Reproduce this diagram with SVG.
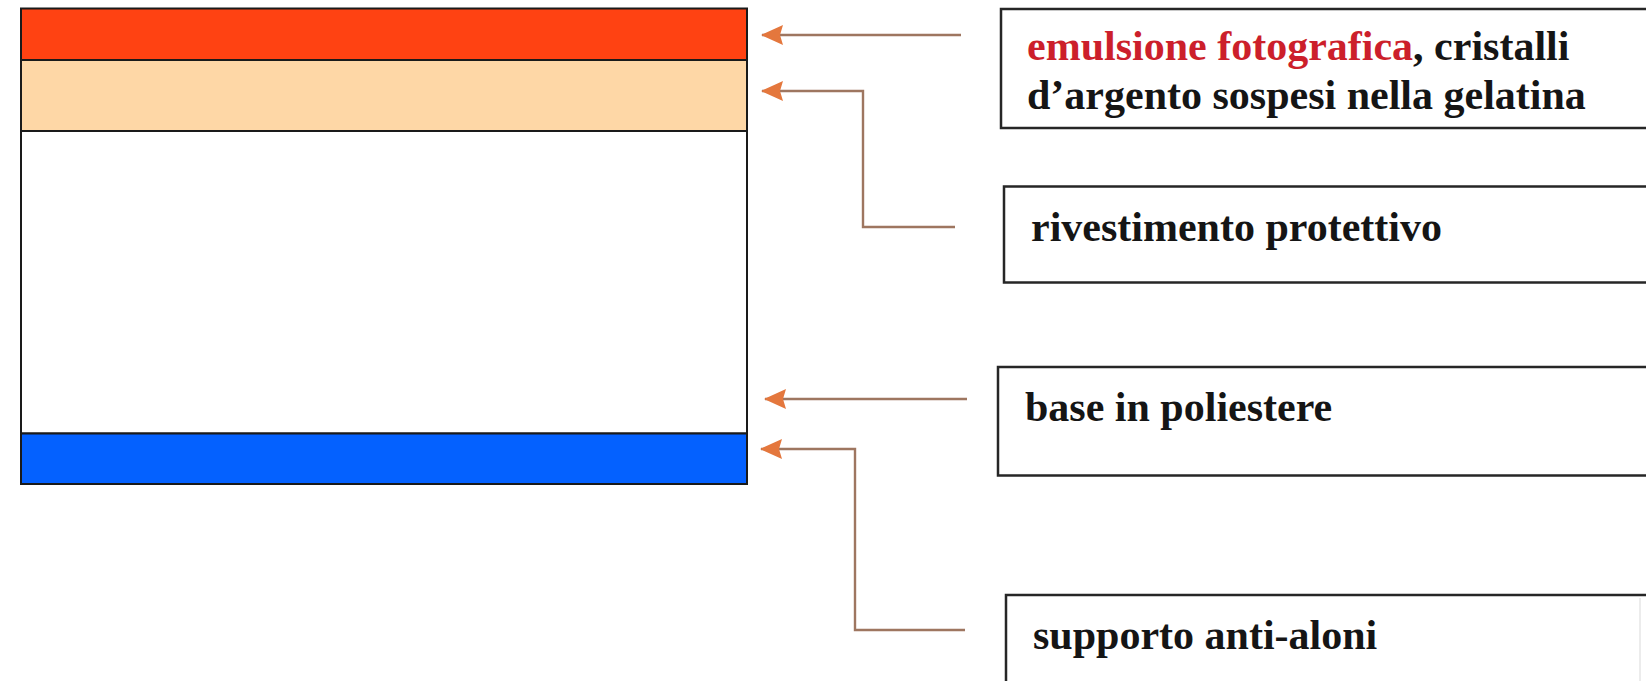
<svg xmlns="http://www.w3.org/2000/svg" width="1646" height="681" viewBox="0 0 1646 681">
  <style>
    .lbl { font-family: "Liberation Serif", "Times New Roman", serif; font-weight: bold; font-size: 42px; fill: #151515; }
    .red { fill: #cc1f2b; }
    .box { fill: #ffffff; stroke: #262626; stroke-width: 2.5; }
    .band { stroke: #1a1a1a; stroke-width: 2; }
    .conn { fill: none; stroke: #9e7660; stroke-width: 2.4; }
  </style>
  <defs>
    <marker id="ah" viewBox="0 0 22 20" refX="21" refY="10" markerWidth="22" markerHeight="20" markerUnits="userSpaceOnUse" orient="auto">
      <path d="M0,0 L22,10 L0,20 L3,10 z" fill="#e4773d"/>
    </marker>
  </defs>
  <rect x="0" y="0" width="1646" height="681" fill="#ffffff"/>

  <g id="layers">
    <rect class="band" x="21" y="8.5" width="726" height="51.5" fill="#ff4212"/>
    <rect class="band" x="21" y="60" width="726" height="71" fill="#fed7a6"/>
    <rect class="band" x="21" y="131" width="726" height="302.5" fill="#ffffff"/>
    <rect class="band" x="21" y="433.5" width="726" height="50.5" fill="#0461ff"/>
  </g>

  <g id="connectors">
    <path class="conn" d="M961,35 L762,35" marker-end="url(#ah)"/>
    <path class="conn" d="M955,227 L863,227 L863,91 L762,91" marker-end="url(#ah)"/>
    <path class="conn" d="M967,399 L765,399" marker-end="url(#ah)"/>
    <path class="conn" d="M965,630 L855,630 L855,449 L761,449" marker-end="url(#ah)"/>
  </g>

  <g id="node-emulsione">
    <rect class="box" x="1001" y="9" width="700" height="119"/>
    <text class="lbl" x="1027" y="60"><tspan class="red">emulsione fotografica</tspan>, cristalli</text>
    <text class="lbl" x="1027" y="109">d’argento sospesi nella gelatina</text>
  </g>

  <g id="node-rivestimento">
    <rect class="box" x="1004" y="186.5" width="700" height="96"/>
    <text class="lbl" x="1031" y="241">rivestimento protettivo</text>
  </g>

  <g id="node-base">
    <rect class="box" x="998" y="367" width="700" height="108.5"/>
    <text class="lbl" x="1025" y="421">base in poliestere</text>
  </g>

  <g id="node-supporto">
    <rect class="box" x="1006" y="595" width="700" height="120"/>
    <line x1="1640" y1="598" x2="1640" y2="681" stroke="#e6e6e6" stroke-width="1.5"/>
    <text class="lbl" x="1033" y="649">supporto anti-aloni</text>
  </g>
</svg>
